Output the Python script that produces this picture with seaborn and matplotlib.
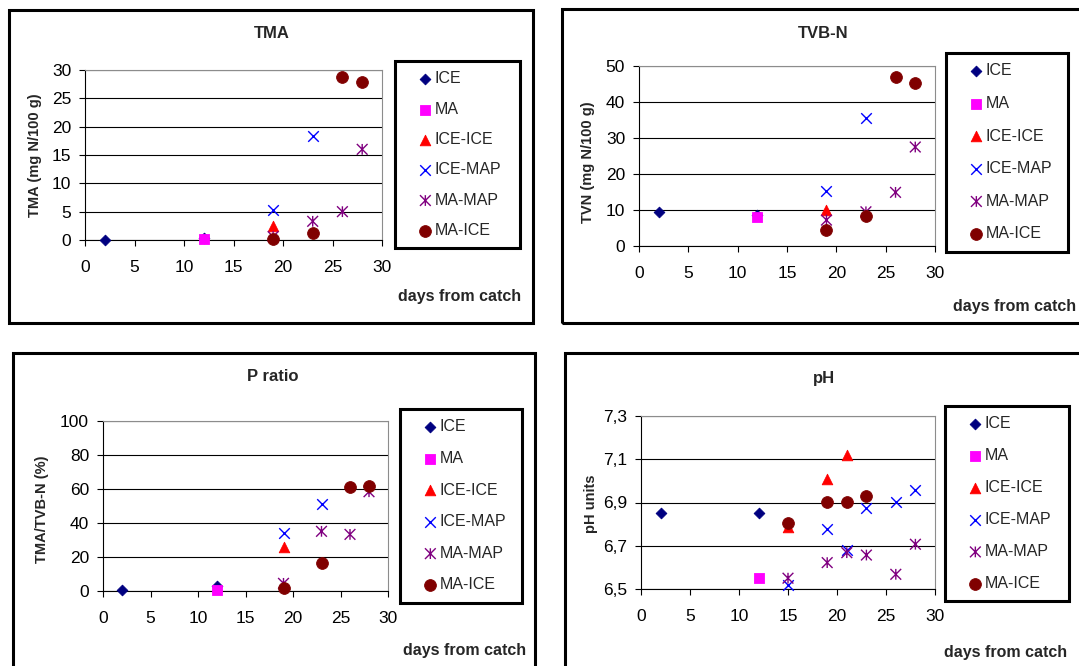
import matplotlib.pyplot as plt
import seaborn as sns
from matplotlib.path import Path
from matplotlib.patches import Rectangle

# series shown in every panel (legend order)
series = ["ICE", "MA", "ICE-ICE", "ICE-MAP", "MA-MAP", "MA-ICE"]

# (days from catch, value) per series
tma = {
    "ICE": ([2, 12], [0.0, 0.35]),
    "MA": ([12], [0.1]),
    "ICE-ICE": ([19], [2.5]),
    "ICE-MAP": ([19, 23], [5.3, 18.3]),
    "MA-MAP": ([19, 23, 26, 28], [0.6, 3.3, 5.0, 16.0]),
    "MA-ICE": ([19, 23, 26, 28], [0.1, 1.3, 28.7, 27.9]),
}
tvbn = {
    "ICE": ([2, 12], [9.5, 8.6]),
    "MA": ([12], [8.1]),
    "ICE-ICE": ([19], [10.0]),
    "ICE-MAP": ([19, 23], [15.4, 35.6]),
    "MA-MAP": ([19, 23, 26, 28], [7.2, 9.5, 14.9, 27.5]),
    "MA-ICE": ([19, 23, 26, 28], [4.5, 8.2, 46.9, 45.4]),
}
pratio = {
    "ICE": ([2, 12], [0.5, 3.2]),
    "MA": ([12], [0.8]),
    "ICE-ICE": ([19], [25.7]),
    "ICE-MAP": ([19, 23], [34.3, 51.2]),
    "MA-MAP": ([19, 23, 26, 28], [4.5, 35.1, 33.3, 58.4]),
    "MA-ICE": ([19, 23, 26, 28], [2.0, 16.3, 61.2, 61.8]),
}
ph = {
    "ICE": ([2, 12], [6.85, 6.85]),
    "MA": ([12], [6.552]),
    "ICE-ICE": ([15, 19, 21], [6.785, 7.007, 7.12]),
    "ICE-MAP": ([15, 19, 21, 23, 26, 28], [6.52, 6.776, 6.68, 6.873, 6.904, 6.958]),
    "MA-MAP": ([15, 19, 21, 23, 26, 28], [6.55, 6.622, 6.668, 6.657, 6.568, 6.707]),
    "MA-ICE": ([15, 19, 21, 23], [6.807, 6.901, 6.904, 6.931]),
}

x_ticks = [0, 5, 10, 15, 20, 25, 30]
tma_ticks = [0, 5, 10, 15, 20, 25, 30]
tvbn_ticks = [0, 10, 20, 30, 40, 50]
pratio_ticks = [0, 20, 40, 60, 80, 100]
ph_ticks = [6.5, 6.7, 6.9, 7.1, 7.3]
ph_tick_labels = ["6,5", "6,7", "6,9", "7,1", "7,3"]

# Excel-like markers
star = Path([(-1, -1), (1, 1), (-1, 1), (1, -1), (0, -1), (0, 1)],
            [Path.MOVETO, Path.LINETO] * 3)
colors = {"ICE": "#000080", "MA": "#ff00ff", "ICE-ICE": "#ff0000",
          "ICE-MAP": "#0000ff", "MA-MAP": "#800080", "MA-ICE": "#800000"}
markers = {"ICE": "D", "MA": "s", "ICE-ICE": "^", "ICE-MAP": "x",
           "MA-MAP": star, "MA-ICE": "o"}
sizes = {"ICE": 30, "MA": 58, "ICE-ICE": 58, "ICE-MAP": 58, "MA-MAP": 60, "MA-ICE": 72}

sns.set_style("white")
plt.rcParams["font.family"] = ["Liberation Sans", "DejaVu Sans"]

W, H = 1079, 666
fig = plt.figure(figsize=(W / 100, H / 100), dpi=100)


def fx(px):
    return px / W


def fy(py):
    return 1 - py / H


panels = [
    dict(data=tma, title="TMA", ylabel="TMA (mg N/100 g)", yticks=tma_ticks, ylabels=None,
         plot=(85, 70, 382, 240), frame=(9, 10, 533, 323), legend=(395, 61, 520, 247),
         lspace=0.96, title_xy=(272, 33), ylab_xy=(35, 155), days_xy=(521, 296)),
    dict(data=tvbn, title="TVB-N", ylabel="TVN (mg N/100 g)", yticks=tvbn_ticks, ylabels=None,
         plot=(639, 66, 935, 246), frame=(562, 9, 1090, 323), legend=(946, 53, 1068, 251),
         lspace=1.1, title_xy=(823, 33), ylab_xy=(588, 162), days_xy=(1076, 307)),
    dict(data=pratio, title="P ratio", ylabel="TMA/TVB-N (%)", yticks=pratio_ticks, ylabels=None,
         plot=(103, 421, 388, 591), frame=(13, 353, 535, 680), legend=(400, 409, 522, 601),
         lspace=1.04, title_xy=(273, 377), ylab_xy=(42, 509), days_xy=(526, 650)),
    dict(data=ph, title="pH", ylabel="pH units", yticks=ph_ticks, ylabels=ph_tick_labels,
         plot=(641, 416, 935, 589), frame=(565, 353, 1090, 680), legend=(945, 406, 1069, 598),
         lspace=1.06, title_xy=(824, 378), ylab_xy=(591, 504), days_xy=(1067, 652)),
]

for p in panels:
    x0, y0, x1, y1 = p["plot"]
    ax = fig.add_axes([fx(x0), fy(y1), (x1 - x0) / W, (y1 - y0) / H])

    for name in series:
        days, vals = p["data"][name]
        kws = dict(marker=markers[name], s=sizes[name], label=name, zorder=3, clip_on=False)
        if markers[name] == "x":
            kws.update(color=colors[name], linewidth=1.0)
        elif markers[name] is star:
            kws.update(edgecolor=colors[name], facecolor="none", linewidth=1.0)
        else:
            kws.update(color=colors[name], edgecolor=colors[name], linewidth=0.6)
        sns.scatterplot(x=days, y=vals, ax=ax, **kws)

    ax.set_xlim(x_ticks[0], x_ticks[-1])
    ax.set_ylim(p["yticks"][0], p["yticks"][-1])
    ax.set_xticks(x_ticks)
    ax.set_yticks(p["yticks"])
    if p["ylabels"]:
        ax.set_yticklabels(p["ylabels"])
    ax.set_xlabel("")
    ax.set_ylabel("")

    ax.yaxis.grid(True, color="black", linewidth=0.8)
    ax.xaxis.grid(False)
    ax.set_axisbelow(True)
    for side in ["left", "bottom"]:
        ax.spines[side].set_color("black")
        ax.spines[side].set_linewidth(0.8)
    for side in ["top", "right"]:
        ax.spines[side].set_color("#8c8c8c")
        ax.spines[side].set_linewidth(0.8)

    ax.tick_params(bottom=True, left=True, direction="out", length=4, width=0.8,
                   color="black", labelsize=12.5, labelcolor="black")
    ax.tick_params(axis="x", pad=10.5)
    ax.tick_params(axis="y", pad=6)

    l, t, r, b = p["legend"]
    leg = ax.legend(loc="upper left", bbox_to_anchor=(fx(l), fy(b), (r - l) / W, (b - t) / H),
                    bbox_transform=fig.transFigure, mode="expand", borderaxespad=0,
                    frameon=True, fancybox=False, edgecolor="black", framealpha=1,
                    fontsize=11.5, handlelength=2.5, handletextpad=-0.66,
                    labelspacing=p["lspace"], borderpad=0.65, scatterpoints=1)
    leg.get_frame().set_linewidth(2.2)

    fl, ft, fr, fb = p["frame"]
    fig.add_artist(Rectangle((fx(fl), fy(fb)), (fr - fl) / W, (fb - ft) / H,
                             transform=fig.transFigure, fill=False,
                             edgecolor="black", linewidth=2.2))

    tx, ty = p["title_xy"]
    fig.text(fx(tx), fy(ty), p["title"], ha="center", va="center",
             fontsize=12, fontweight="bold")
    lx, ly = p["ylab_xy"]
    fig.text(fx(lx), fy(ly), p["ylabel"], rotation=90, ha="center", va="center",
             fontsize=10.5, fontweight="bold")
    dx, dy = p["days_xy"]
    fig.text(fx(dx), fy(dy), "days from catch", ha="right", va="center",
             fontsize=11.5, fontweight="bold")

fig.savefig("out.png", dpi=100)
